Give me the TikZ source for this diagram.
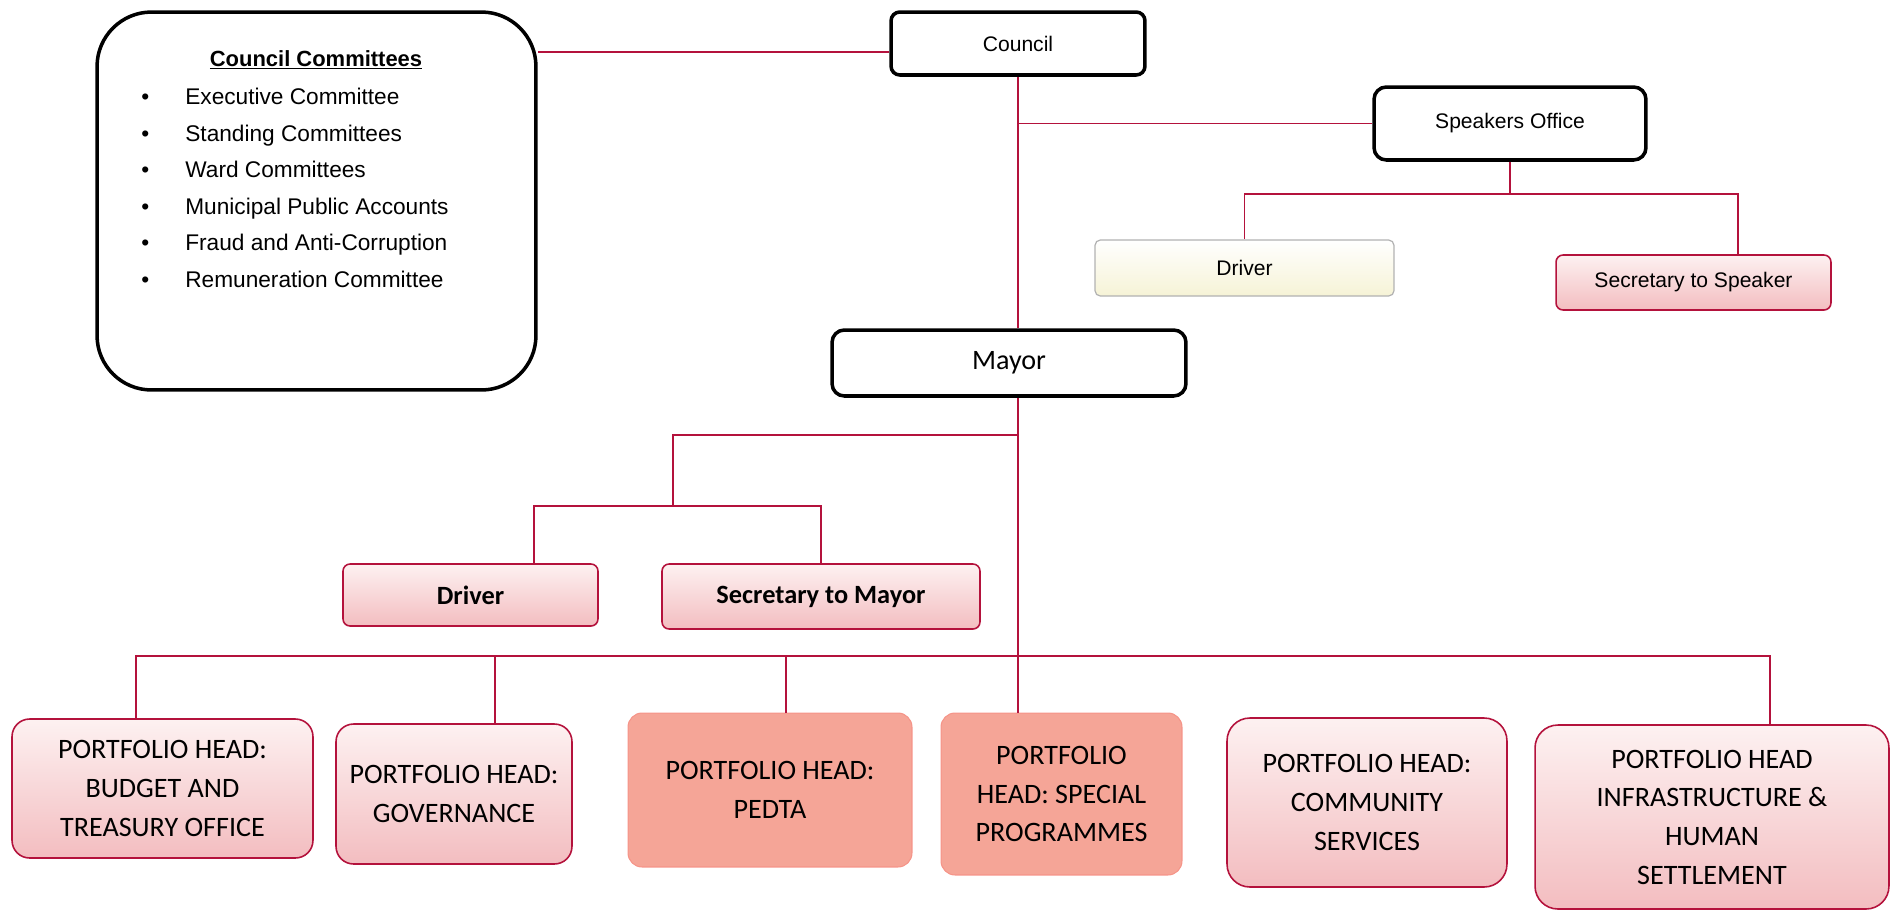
\documentclass[tikz,border=0pt]{standalone}
\usepackage{fontspec}
\setmainfont{Carlito}
\newfontfamily\arialFont{Liberation Sans}
\usepackage{xcolor}
\definecolor{orgLine}{HTML}{B4123C}
\definecolor{orgPinkTop}{HTML}{FDF1F1}
\definecolor{orgPinkBot}{HTML}{F3BDC0}
\definecolor{orgSalmon}{HTML}{F5A597}
\definecolor{orgCream}{HTML}{F6F3D6}

\tikzset{
  orgTop/.style={draw=black, line width=2pt, rounded corners=5pt, fill=white, inner sep=0pt},
  orgSoft/.style={draw=orgLine, line width=0.9pt, rounded corners=4pt, top color=orgPinkTop, bottom color=orgPinkBot, inner sep=0pt},
  orgHot/.style={draw=orgSalmon!90!red, line width=0.6pt, fill=orgSalmon, rounded corners=8pt, inner sep=0pt},
  orgLink/.style={draw=orgLine, line width=1pt},
  orgArial/.style={font=\arialFont\fontsize{12}{14}\selectfont},
  orgHead/.style={font=\fontsize{16}{22}\selectfont, align=center},
}

\begin{document}
\begin{tikzpicture}[x=0.02cm, y=-0.02cm]
  \useasboundingbox (0,0) rectangle (1901,914);
  % council side
  \node[orgTop, rounded corners=31pt, minimum width=8.78cm, minimum height=7.56cm] (cmt) at (316.5,201) {};
  \node[font=\arialFont\bfseries\fontsize{12.5}{14}\selectfont] (cmtTitle) at (316,60) {\underline{Council Committees}};
  \node[anchor=north west, inner sep=0pt, align=left, font=\arialFont\fontsize{12.9}{20.8}\selectfont] (cmtList) at (185,88)
    {\llap{\textbullet\hspace{0.72cm}}Executive Committee\\
     \llap{\textbullet\hspace{0.72cm}}Standing Committees\\
     \llap{\textbullet\hspace{0.72cm}}Ward Committees\\
     \llap{\textbullet\hspace{0.72cm}}Municipal Public Accounts\\
     \llap{\textbullet\hspace{0.72cm}}Fraud and Anti-Corruption\\
     \llap{\textbullet\hspace{0.72cm}}Remuneration Committee};
  \node[orgTop, orgArial, minimum width=5.08cm, minimum height=1.26cm] (council) at (1018,43.5) {Council};
  \node[orgTop, orgArial, rounded corners=7pt, minimum width=5.44cm, minimum height=1.46cm] (speakers) at (1510,123.5) {Speakers Office};
  \node[orgArial, draw=gray!60, line width=0.7pt, rounded corners=3pt, top color=white, bottom color=orgCream, inner sep=0pt, minimum width=5.98cm, minimum height=1.12cm] (drvS) at (1244.5,268) {Driver};
  \node[orgSoft, orgArial, minimum width=5.5cm, minimum height=1.1cm] (secS) at (1693.5,282.5) {Secretary to Speaker};
  % mayor side
  \node[orgTop, font=\fontsize{16}{20}\selectfont, rounded corners=7pt, minimum width=7.08cm, minimum height=1.32cm] (mayor) at (1009,363) {Mayor};
  \node[orgSoft, font=\bfseries\fontsize{15}{18}\selectfont, minimum width=5.1cm, minimum height=1.24cm] (drvM) at (470.5,595) {Driver};
  \node[orgSoft, font=\bfseries\fontsize{15}{18}\selectfont, minimum width=6.36cm, minimum height=1.3cm] (secM) at (821,596.5) {Secretary to Mayor};
  % portfolio heads
  \node[orgSoft, orgHead, rounded corners=10pt, minimum width=6.02cm, minimum height=2.78cm] (p1) at (162.5,788.5) {PORTFOLIO HEAD:\\BUDGET AND\\TREASURY OFFICE};
  \node[orgSoft, orgHead, rounded corners=10pt, minimum width=4.72cm, minimum height=2.8cm] (p2) at (454,794) {PORTFOLIO HEAD:\\GOVERNANCE};
  \node[orgHot, orgHead, minimum width=5.68cm, minimum height=3.08cm] (p3) at (770,790) {PORTFOLIO HEAD:\\PEDTA};
  \node[orgHot, orgHead, minimum width=4.82cm, minimum height=3.24cm] (p4) at (1061.5,794) {PORTFOLIO\\HEAD: SPECIAL\\PROGRAMMES};
  \node[orgSoft, orgHead, rounded corners=13pt, minimum width=5.6cm, minimum height=3.38cm] (p5) at (1367,802.5) {PORTFOLIO HEAD:\\COMMUNITY\\SERVICES};
  \node[orgSoft, orgHead, rounded corners=13pt, minimum width=7.08cm, minimum height=3.68cm] (p6) at (1712,817) {PORTFOLIO HEAD\\INFRASTRUCTURE \&\\HUMAN\\SETTLEMENT};
  % connectors
  \coordinate (cjoin) at (0,52);
  \draw[orgLink] (council.west |- cjoin) -- (cmt.east |- cjoin);
  \draw[orgLink] (council.south) -- (council.south |- mayor.north);
  \draw[orgLink] (speakers.west) -- (speakers.west -| council.south);
  \coordinate (sbar) at (0,194);
  \coordinate (sdrop) at ([xshift=0.89cm]secS.north);
  \draw[orgLink] (speakers.south) -- (speakers.south |- sbar);
  \draw[orgLink] (drvS.north) -- (drvS.north |- sbar) -- (sdrop |- sbar) -- (sdrop);
  \coordinate (mjoin) at (673,435);
  \coordinate (mbar) at (673,506);
  \coordinate (mdrop) at ([xshift=1.27cm]drvM.north);
  \draw[orgLink] (council.south |- mjoin) -- (mjoin) -- (mbar);
  \draw[orgLink] (mdrop) -- (mdrop |- mbar) -- (secM.north |- mbar) -- (secM.north);
  \coordinate (pbar) at (0,656);
  \coordinate (d1) at ([xshift=-0.53cm]p1.north);
  \coordinate (d2) at ([xshift=0.82cm]p2.north);
  \coordinate (d3) at ([xshift=0.32cm]p3.north);
  \coordinate (d6) at ([xshift=1.16cm]p6.north);
  \draw[orgLink] (council.south |- mayor.south) -- (council.south |- p4.north);
  \draw[orgLink] (d1) -- (d1 |- pbar) -- (d6 |- pbar) -- (d6);
  \draw[orgLink] (d2 |- pbar) -- (d2);
  \draw[orgLink] (d3 |- pbar) -- (d3);
\end{tikzpicture}
\end{document}
